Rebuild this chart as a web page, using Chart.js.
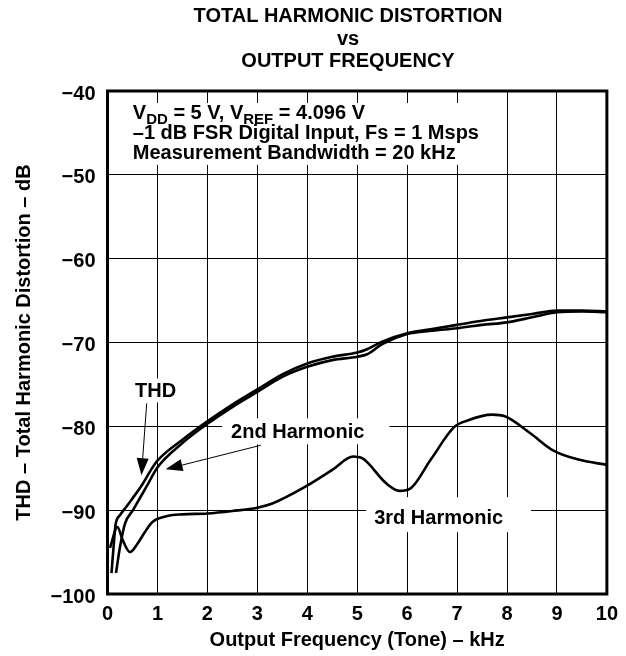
<!DOCTYPE html>
<html>
<head>
<meta charset="utf-8">
<script src="https://cdn.jsdelivr.net/npm/chart.js@4.4.1/dist/chart.umd.min.js"></script>
<style>
    html, body { margin: 0; padding: 0; background: #fff; }
    #thd-chart { display: block; }
</style>
</head>
<body>
<canvas id="thd-chart" width="626" height="656"></canvas>
<script>
    // Values: frequency in kHz, level in dB
    const thdFreq = [0.08, 0.12, 0.16, 0.25, 0.35, 0.5, 0.7, 0.85, 1.0, 1.5, 2.0, 2.5, 3.0, 3.5, 4.0, 4.5, 5.0, 5.2, 5.5, 6.0, 6.5, 7.0, 7.5, 8.0, 8.5, 9.0, 9.5, 10.0];
    const thdDb   = [-97.5, -94.5, -91.8, -90.6, -89.8, -88.6, -86.9, -85.4, -84.1, -81.6, -79.4, -77.4, -75.6, -73.8, -72.5, -71.7, -71.2, -70.8, -69.9, -68.9, -68.4, -67.9, -67.4, -67.0, -66.6, -66.2, -66.2, -66.3];

    const h2Freq = [0.17, 0.25, 0.35, 0.51, 0.78, 1.0, 1.5, 2.0, 2.5, 3.0, 3.5, 4.0, 4.5, 5.0, 5.2, 5.5, 6.0, 6.5, 7.0, 7.5, 8.0, 8.5, 9.0, 9.5, 10.0];
    const h2Db   = [-97.5, -94.4, -91.6, -90.0, -87.2, -84.9, -82.0, -79.7, -77.7, -75.9, -74.1, -72.9, -72.1, -71.7, -71.4, -70.2, -69.0, -68.6, -68.3, -67.9, -67.6, -67.0, -66.4, -66.3, -66.4];

    const h3Freq = [0.05, 0.2, 0.3, 0.45, 0.6, 0.75, 0.9, 1.2, 1.5, 2.0, 2.5, 3.0, 3.3, 3.96, 4.5, 4.92, 5.1, 5.58, 5.85, 6.07, 6.47, 6.94, 7.21, 7.7, 7.96, 8.46, 8.93, 9.45, 10.0];
    const h3Db   = [-94.5, -92.0, -93.5, -95.0, -94.0, -92.6, -91.4, -90.7, -90.5, -90.4, -90.1, -89.7, -89.2, -87.2, -85.2, -83.6, -83.8, -86.8, -87.7, -87.4, -84.0, -80.1, -79.3, -78.6, -78.8, -80.8, -82.9, -84.0, -84.6];

    const freqTicks = [0, 1, 2, 3, 4, 5, 6, 7, 8, 9, 10];
    const dbTicks = [-100, -90, -80, -70, -60, -50, -40];

    const titleLines = ['TOTAL HARMONIC DISTORTION', 'vs', 'OUTPUT FREQUENCY'];

    const FONT = '"Liberation Sans", Arial, Helvetica, sans-serif';

    const toPoints = (xs, ys) => xs.map((x, i) => ({ x: x, y: ys[i] }));

    const curve = (label, xs, ys) => ({
        label: label,
        data: toPoints(xs, ys),
        borderColor: '#000',
        borderWidth: 2.6,
        pointRadius: 0,
        fill: false,
        cubicInterpolationMode: 'monotone'
    });

    // annotation labels, anchored in data units (left edge, baseline)
    const curveLabels = [
        { text: 'THD',          x: 0.55, y: -76.55, pad: [5, 5, 5, 5] },
        { text: '2nd Harmonic', x: 2.475, y: -81.43, pad: [9, 6, 25, 6] },
        { text: '3rd Harmonic', x: 5.34, y: -91.67, pad: [8, 13, 28, 8] }
    ];
    const arrows = [
        { from: [0.785, -77.26], to: [0.68, -85.83] },
        { from: [3.07, -82.26], to: [1.163, -85.12] }
    ];
    const noteLines = [
        [['V'], ['DD', 'sub'], [' = 5 V, V'], ['REF', 'sub'], [' = 4.096 V']],
        [['\u20131 dB FSR Digital Input, Fs = 1 Msps']],
        [['Measurement Bandwidth = 20 kHz']]
    ];
    const noteX = 0.507;
    const noteY = [-43.33, -45.71, -48.10];

    const mainFont = 'bold 20px ' + FONT;
    const subFont = 'bold 15px ' + FONT;

    const runWidth = (ctx, line) => line.reduce((w, seg) => {
        ctx.font = seg[1] === 'sub' ? subFont : mainFont;
        return w + ctx.measureText(seg[0]).width;
    }, 0);

    const overlay = {
        id: 'overlay',
        beforeDatasetsDraw(chart) {
            const ctx = chart.ctx, xs = chart.scales.x, ys = chart.scales.y;
            ctx.save();
            ctx.fillStyle = '#fff';
            // white patches where the text sits on the grid
            ctx.font = mainFont;
            curveLabels.forEach(l => {
                const px = xs.getPixelForValue(l.x), py = ys.getPixelForValue(l.y);
                const w = ctx.measureText(l.text).width;
                ctx.fillRect(px - l.pad[0], py - 14 - l.pad[1], w + l.pad[0] + l.pad[2], 14 + l.pad[1] + l.pad[3]);
            });
            const nx = xs.getPixelForValue(noteX);
            const widest = Math.max(...noteLines.map(line => runWidth(ctx, line)));
            const top = chart.chartArea.top + 12;
            const bottom = ys.getPixelForValue(noteY[2]) + 6;
            ctx.fillRect(nx - 8, top, widest + 16, bottom - top);
            ctx.restore();
        },
        afterDatasetsDraw(chart) {
            const ctx = chart.ctx, xs = chart.scales.x, ys = chart.scales.y;
            const a = chart.chartArea;
            ctx.save();
            ctx.strokeStyle = '#000';
            ctx.lineWidth = 3;
            ctx.strokeRect(a.left, a.top, a.right - a.left, a.bottom - a.top);

            ctx.fillStyle = '#000';
            ctx.textBaseline = 'alphabetic';

            // title, centred over the plot box
            ctx.textAlign = 'center';
            ctx.font = mainFont;
            titleLines.forEach((t, i) => ctx.fillText(t, 348, 22 + i * 22.5));

            ctx.textAlign = 'left';
            curveLabels.forEach(l => {
                ctx.fillText(l.text, xs.getPixelForValue(l.x), ys.getPixelForValue(l.y));
            });

            // arrows
            arrows.forEach(ar => {
                const x1 = xs.getPixelForValue(ar.from[0]), y1 = ys.getPixelForValue(ar.from[1]);
                const x2 = xs.getPixelForValue(ar.to[0]), y2 = ys.getPixelForValue(ar.to[1]);
                const ang = Math.atan2(y2 - y1, x2 - x1);
                const len = 17, half = 6;
                const bx = x2 - len * Math.cos(ang), by = y2 - len * Math.sin(ang);
                ctx.lineWidth = 1;
                ctx.beginPath();
                ctx.moveTo(x1, y1);
                ctx.lineTo(bx, by);
                ctx.stroke();
                ctx.beginPath();
                ctx.moveTo(x2, y2);
                ctx.lineTo(bx + half * Math.sin(ang), by - half * Math.cos(ang));
                ctx.lineTo(bx - half * Math.sin(ang), by + half * Math.cos(ang));
                ctx.closePath();
                ctx.fill();
            });

            // condition notes with subscripts
            noteLines.forEach((line, i) => {
                let x = xs.getPixelForValue(noteX);
                const y = ys.getPixelForValue(noteY[i]);
                line.forEach(seg => {
                    const sub = seg[1] === 'sub';
                    ctx.font = sub ? subFont : mainFont;
                    ctx.fillText(seg[0], x, sub ? y + 5 : y);
                    x += ctx.measureText(seg[0]).width;
                });
            });
            ctx.restore();
        }
    };

    new Chart(document.getElementById('thd-chart'), {
        type: 'line',
        data: {
            datasets: [
                curve('THD', thdFreq, thdDb),
                curve('2nd Harmonic', h2Freq, h2Db),
                curve('3rd Harmonic', h3Freq, h3Db)
            ]
        },
        options: {
            responsive: false,
            animation: false,
            events: [],
            layout: { padding: { left: 0, right: 15.5, top: 91, bottom: 0 } },
            plugins: {
                legend: { display: false },
                tooltip: { enabled: false },
                title: { display: false }
            },
            scales: {
                x: {
                    type: 'linear',
                    min: 0,
                    max: 10,
                    afterBuildTicks: s => { s.ticks = freqTicks.map(v => ({ value: v })); },
                    afterFit: s => { s.height = 62; },
                    grid: { color: '#000', lineWidth: 1, drawTicks: false },
                    border: { display: false },
                    ticks: {
                        color: '#000',
                        padding: 8,
                        font: { family: FONT, size: 20, weight: 'bold' }
                    },
                    title: {
                        display: true,
                        text: 'Output Frequency (Tone) \u2013 kHz',
                        color: '#000',
                        font: { family: FONT, size: 20, weight: 'bold' },
                        padding: { top: 0, bottom: 4 }
                    }
                },
                y: {
                    min: -100,
                    max: -40,
                    afterBuildTicks: s => { s.ticks = dbTicks.map(v => ({ value: v })); },
                    afterFit: s => { s.width = 107.5; },
                    grid: { color: '#000', lineWidth: 1, drawTicks: false },
                    border: { display: false },
                    ticks: {
                        color: '#000',
                        padding: 12,
                        labelOffset: 3,
                        font: { family: FONT, size: 20, weight: 'bold' },
                        callback: v => (v < 0 ? '\u2212' + Math.abs(v) : '' + v)
                    },
                    title: {
                        display: true,
                        text: 'THD \u2013 Total Harmonic Distortion \u2013 dB',
                        color: '#000',
                        font: { family: FONT, size: 20, weight: 'bold' },
                        padding: { top: 12, bottom: 0 }
                    }
                }
            }
        },
        plugins: [overlay]
    });
</script>
</body>
</html>
